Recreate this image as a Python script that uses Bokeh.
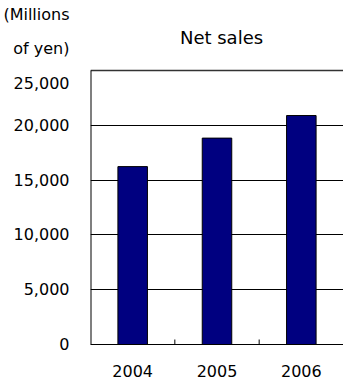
from bokeh.plotting import figure
from bokeh.models import (FactorRange, Range1d, FixedTicker, Label, ColumnDataSource)
from bokeh.embed import file_html
from bokeh.resources import INLINE

years = ["2004", "2005", "2006"]
net_sales = [16230, 18830, 20890]
y_ticks = [0, 5000, 10000, 15000, 20000]
y_tick_labels = ["0", "5,000", "10,000", "15,000", "20,000"]
y_top = 25000
title_text = "Net sales"
unit_lines = ["(Millions", "of yen)"]
top_label = "25,000"

FONT = "DejaVu Sans"
PLOT_PX = 274          # pixel height of 0..25,000
FRAME_PX = 344         # frame spans the canvas from top down to the x axis
per_px = y_top / PLOT_PX
y_end = FRAME_PX * per_px

p = figure(x_range=FactorRange(factors=years, range_padding=0),
           y_range=Range1d(0, y_end),
           width=343, height=385, output_backend="svg", toolbar_location=None,
           min_border_left=90, min_border_right=0, min_border_top=0,
           min_border_bottom=41)

src = ColumnDataSource(dict(x=years, top=net_sales))
p.vbar(x="x", top="top", width=0.35, source=src, fill_color="#000080",
       line_color="black", line_width=1)

p.outline_line_color = None
p.background_fill_color = "white"
p.border_fill_color = "white"

p.xgrid.grid_line_color = None
p.ygrid.ticker = FixedTicker(ticks=y_ticks)
p.ygrid.grid_line_color = "black"
p.ygrid.grid_line_width = 1

# top line at 25,000 and the left edge of the plot area (0..25,000 only)
p.segment(x0=[(years[0], -0.5)], y0=[y_top], x1=[(years[-1], 0.5)], y1=[y_top],
          line_color="#333333", line_width=1.5)
p.segment(x0=[(years[0], -0.5)], y0=[0], x1=[(years[0], -0.5)], y1=[y_top],
          line_color="black", line_width=2)

# y axis: numeric ticks, the 25,000 label sits 13px below its line,
# and the unit caption rides on the same axis above it
label_25k = int(round(y_top - 13 * per_px))
unit_pos = [int(round((FRAME_PX - 14) * per_px)), int(round((FRAME_PX - 48) * per_px))]
overrides = {v: t for v, t in zip(y_ticks, y_tick_labels)}
overrides[label_25k] = top_label
overrides[unit_pos[0]] = unit_lines[0]
overrides[unit_pos[1]] = unit_lines[1]
p.yaxis.ticker = FixedTicker(ticks=y_ticks + [label_25k] + unit_pos)
p.yaxis.major_label_overrides = overrides
p.yaxis.major_tick_out = 0
p.yaxis.major_tick_in = 0
p.yaxis.minor_tick_out = 0
p.yaxis.minor_tick_in = 0
p.yaxis.major_label_standoff = 21
p.yaxis.axis_line_color = None

p.xaxis.major_tick_out = 0
p.xaxis.major_tick_in = 0
p.xaxis.major_label_standoff = 20
p.xaxis.axis_line_color = "black"

for ax in (p.xaxis[0], p.yaxis[0]):
    ax.major_label_text_font = FONT
    ax.major_label_text_font_size = "16px"
    ax.major_label_text_color = "black"

# category boundary ticks on the x axis
tick_h = 5 * per_px
p.segment(x0=[(y, -0.5) for y in years[1:]], y0=0,
          x1=[(y, -0.5) for y in years[1:]], y1=tick_h,
          line_color="black", line_width=1)

p.add_layout(Label(x=131, y=FRAME_PX - 37, x_units="screen", y_units="screen",
                   text=title_text, text_align="center",
                   text_baseline="middle", text_font=FONT, text_font_size="18px",
                   text_color="black"))

open("out.html", "w").write(file_html(p, INLINE))
